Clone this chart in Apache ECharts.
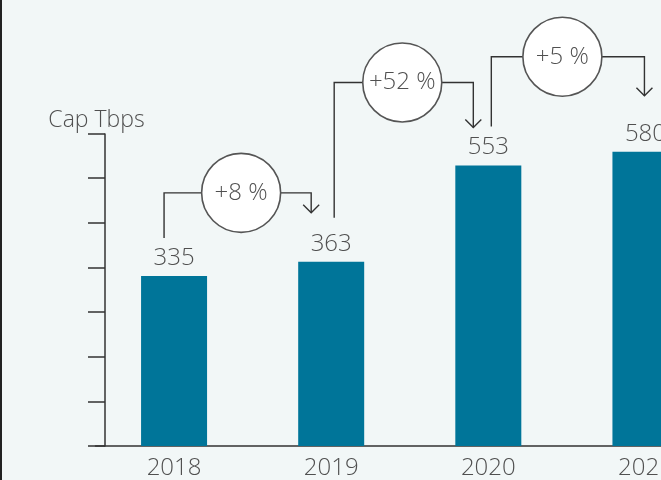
<!DOCTYPE html>
<html>
<head>
<meta charset="utf-8">
<script src="https://cdn.jsdelivr.net/npm/echarts@6/dist/echarts.min.js"></script>
<style>
  html, body { margin: 0; padding: 0; background: #f2f7f7; overflow: hidden; }
  /* the chart runs past the right edge of the window, as in the original crop */
  #chart { width: 724px; height: 480px; }
</style>
</head>
<body>
<div id="chart"></div>
<script>
// data
var years = ['2018', '2019', '2020', '2021'];
var capacity = [335, 363, 553, 580];
var growth = ['+8 %', '+52 %', '+5 %'];

// nudges for the growth bubbles (pixels, relative to the bars)
var bubbleLayout = [
  { dl: -10, dr: -20, dc: -11.5, lift: 69, gap0: 38, gap1: 49 },
  { dl: 3, dr: -15, dc: -7.5, lift: 83, gap0: 44, gap1: 38 },
  { dl: 3, dr: -1, dc: -4.5, lift: 95, gap0: 39, gap1: 56 }
];

var FONT = '"Open Sans", "Noto Sans", sans-serif';
var TEXT = '#505050';
var LINE = '#333333';

var chart = echarts.init(document.getElementById('chart'));

function renderBubble(params, api) {
  var i = api.value(0);
  var p0 = api.coord([i, api.value(1)]);
  var p1 = api.coord([i + 1, api.value(2)]);
  var lay = bubbleLayout[params.dataIndex];
  var r = 39.5;
  var lx = p0[0] + lay.dl;
  var rx = p1[0] + lay.dr;
  var cx = (p0[0] + p1[0]) / 2 + lay.dc;
  var cy = p1[1] - lay.lift;
  var bottom = p0[1] - lay.gap0;
  var tip = p1[1] - lay.gap1;
  var stroke = { stroke: LINE, lineWidth: 1.4, fill: null };
  return {
    type: 'group',
    children: [
      { type: 'polyline', shape: { points: [[lx, bottom], [lx, cy], [cx - r, cy]] }, style: stroke },
      { type: 'polyline', shape: { points: [[cx + r, cy], [rx, cy], [rx, tip]] }, style: stroke },
      { type: 'polyline', shape: { points: [[rx - 8, tip - 8], [rx, tip], [rx + 8, tip - 8]] }, style: stroke },
      { type: 'circle', shape: { cx: cx, cy: cy, r: r }, style: { fill: '#ffffff', stroke: '#555555', lineWidth: 1.6 } },
      {
        type: 'text',
        style: {
          x: cx, y: cy, text: growth[params.dataIndex],
          align: 'center', verticalAlign: 'middle',
          font: '300 24px ' + FONT, fill: TEXT
        }
      }
    ]
  };
}

var bubbles = growth.map(function (g, i) {
  return [i, capacity[i], capacity[i + 1]];
});

chart.setOption({
  animation: false,
  backgroundColor: '#f2f7f7',
  textStyle: { fontFamily: FONT },
  graphic: [{
    type: 'line', shape: { x1: 1, y1: 0, x2: 1, y2: 480 },
    style: { stroke: '#222222', lineWidth: 2 }
  }],
  grid: { left: 95.5, right: 0, top: 134, bottom: 32, containLabel: false },
  xAxis: {
    type: 'category',
    data: years,
    axisLine: { lineStyle: { color: LINE, width: 1.5 } },
    axisTick: { show: false },
    axisLabel: { color: TEXT, fontSize: 24, fontWeight: 300, margin: 10 }
  },
  yAxis: {
    type: 'value',
    min: 0,
    max: 615,
    interval: 88,
    offset: -9.5,
    name: 'Cap Tbps',
    nameLocation: 'end',
    nameGap: 2,
    nameTextStyle: { color: TEXT, fontSize: 23, fontWeight: 300, align: 'center', padding: [0, 17, 0, 0] },
    axisLine: { show: true, lineStyle: { color: LINE, width: 1.5 } },
    axisTick: { show: true, length: 17, lineStyle: { color: LINE, width: 1.5 } },
    axisLabel: { show: false },
    splitLine: { show: false }
  },
  series: [
    {
      type: 'bar',
      data: capacity,
      barWidth: 66,
      itemStyle: { color: '#007599' },
      label: { show: true, position: 'top', distance: 6, color: TEXT, fontSize: 24, fontWeight: 300 }
    },
    {
      type: 'custom',
      data: bubbles,
      encode: { x: 0, y: [1, 2] },
      renderItem: renderBubble,
      z: 5
    }
  ]
});
</script>
</body>
</html>
